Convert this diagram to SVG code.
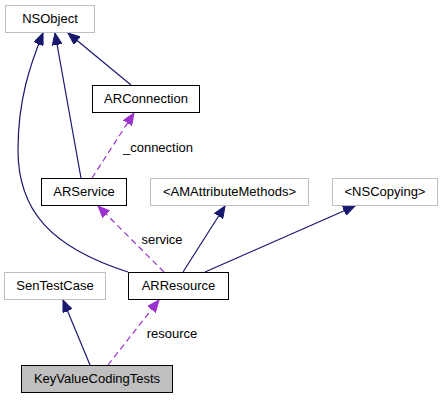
<svg xmlns="http://www.w3.org/2000/svg" width="441" height="400" viewBox="0 0 441 400">
<style>
.box{stroke-width:1}
.gray{fill:#fff;stroke:#bfbfbf}
.blk{fill:#fff;stroke:#000}
.cur{fill:#bfbfbf;stroke:#000}
text{font-family:"Liberation Sans",Arial,sans-serif;font-size:13px;fill:#000;text-anchor:middle}
.inh{fill:none;stroke:#191970;stroke-width:1.2;marker-end:url(#ah)}
.use{fill:none;stroke:#9a32cd;stroke-width:1.2;stroke-dasharray:6,4;marker-end:url(#ap)}
</style>
<defs>
<marker id="ah" markerUnits="userSpaceOnUse" markerWidth="14" markerHeight="10" refX="12" refY="5" orient="auto"><path d="M0,0 L12,5 L0,10 z" fill="#191970" stroke="#191970"/></marker>
<marker id="ap" markerUnits="userSpaceOnUse" markerWidth="14" markerHeight="10" refX="12" refY="5" orient="auto"><path d="M0,0 L12,5 L0,10 z" fill="#9a32cd" stroke="#9a32cd"/></marker>
</defs>
<rect width="441" height="400" fill="#fff"/>
<g id="edges">
<path class="inh" d="M131,85 L68,33"/>
<path class="inh" d="M81,178 L55,33"/>
<path class="inh" d="M128,272 C50,247 18,210 18,150 C18,100 30,65 43,33"/>
<path class="use" d="M92,178 L134,113"/>
<text x="158" y="152">_connection</text>
<path class="use" d="M164,272 L98,206"/>
<text x="162" y="244">service</text>
<path class="inh" d="M183,272 L225,206"/>
<path class="inh" d="M205,272 L355,206"/>
<path class="inh" d="M90,365 L63,300"/>
<path class="use" d="M108,365 L159,300"/>
<text x="172" y="338">resource</text>
</g>
<g id="NSObject"><rect class="gray" x="5.5" y="5.5" width="89" height="27"/><text x="50" y="23">NSObject</text></g>
<g id="ARConnection"><rect class="blk" x="92.5" y="85.5" width="107" height="27"/><text x="146" y="103">ARConnection</text></g>
<g id="ARService"><rect class="blk" x="41.5" y="178.5" width="85" height="27"/><text x="84" y="196">ARService</text></g>
<g id="AMAttributeMethods"><rect class="gray" x="150.5" y="178.5" width="158" height="27"/><text x="229.5" y="196">&lt;AMAttributeMethods&gt;</text></g>
<g id="NSCopying"><rect class="gray" x="332.5" y="178.5" width="105" height="27"/><text x="385" y="196">&lt;NSCopying&gt;</text></g>
<g id="SenTestCase"><rect class="gray" x="4.5" y="272.5" width="101" height="27"/><text x="55" y="290">SenTestCase</text></g>
<g id="ARResource"><rect class="blk" x="128.5" y="272.5" width="100" height="27"/><text x="178.5" y="290">ARResource</text></g>
<g id="KeyValueCodingTests"><rect class="cur" x="21.5" y="365.5" width="151" height="27"/><text x="97" y="383">KeyValueCodingTests</text></g>
</svg>
